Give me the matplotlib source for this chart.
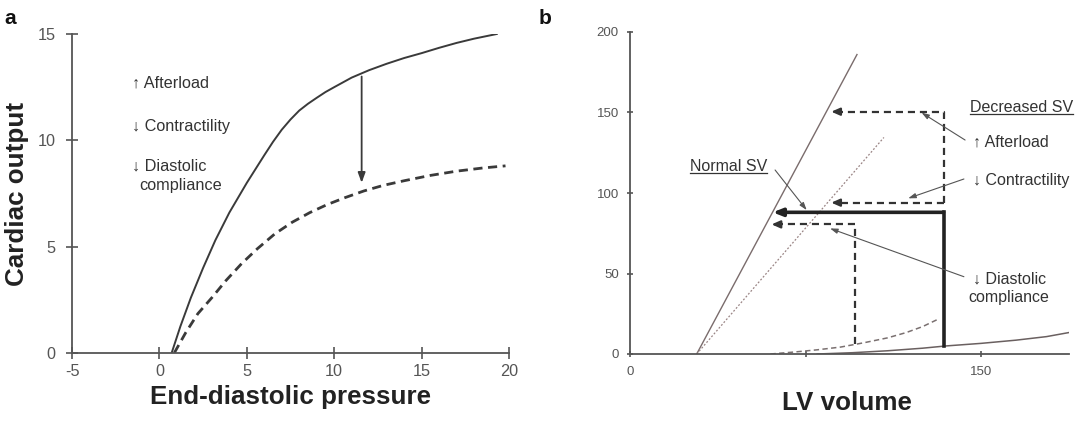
import matplotlib
matplotlib.use('Agg')
import matplotlib.pyplot as plt
from matplotlib.lines import Line2D

plt.rcParams['font.family'] = ['Liberation Sans', 'DejaVu Sans']
plt.rcParams['axes.unicode_minus'] = False

# ---------------- Panel a data ----------------
edp_normal = [0.7, 1.2, 1.8, 2.5, 3.2, 4.0, 5.0, 6.0, 6.5, 7.0, 7.5, 8.0, 8.5, 9.0,
              9.5, 10.0, 11.0, 12.0, 13.0, 14.0, 15.0, 16.0, 17.0, 18.0, 19.3]
co_normal = [0, 1.25, 2.6, 4.0, 5.3, 6.6, 8.0, 9.3, 9.93, 10.5, 10.98, 11.4, 11.72, 12.0,
             12.27, 12.5, 12.95, 13.3, 13.6, 13.87, 14.1, 14.35, 14.58, 14.78, 15.0]
edp_failing = [0.85, 1.5, 2.2, 3.0, 3.8, 4.7, 5.6, 6.6, 7.6, 8.6, 9.6, 10.6, 11.7,
               12.8, 14.0, 15.5, 17.0, 18.5, 19.8]
co_failing = [0, 0.95, 1.85, 2.6, 3.4, 4.2, 4.9, 5.6, 6.15, 6.6, 6.98, 7.3, 7.62,
              7.88, 8.1, 8.35, 8.55, 8.7, 8.8]
shift_edp = 11.57
shift_from = 13.0
shift_to = 8.0
a_xticks = [-5, 0, 5, 10, 15, 20]
a_yticks = [0, 5, 10, 15]
a_labels = ['\u2191 Afterload', '\u2193 Contractility', '\u2193 Diastolic', 'compliance']

# ---------------- Panel b data ----------------
espvr_x = [28.5, 97.0]
espvr_y = [0, 186.0]
espvr_low_x = [28.5, 108.5]
espvr_low_y = [0, 134.5]
edpvr_x = [80, 95, 110, 125, 135, 150, 165, 178, 187.5]
edpvr_y = [0, 0.8, 2.0, 3.6, 5.0, 6.6, 8.6, 10.8, 13.3]
edpvr_stiff_x = [60, 70, 80, 90, 100, 110, 118, 125, 131.5]
edpvr_stiff_y = [0, 1.2, 2.6, 4.3, 7.0, 10.0, 13.3, 17.0, 21.5]
# stroke volume loops: (EDV, ESV, end-systolic pressure, end-diastolic pressure)
normal_sv = (134.0, 61.0, 88.0, 5.0)
afterload_sv = (134.0, 86.0, 150.5, 94.0)
contract_sv = (134.0, 86.0, 94.0)
diastolic_sv = (96.2, 60.5, 80.5, 6.5)
b_xticks = [0, 75, 150]
b_xticklabels = ['0', '', '150']
b_yticks = [0, 50, 100, 150, 200]

GRAY = '#555555'
DARK = '#333333'

fig = plt.figure(figsize=(10.86, 4.22), dpi=100)

# ================= Panel a =================
ax = fig.add_axes([72/1086, 1-353/422, (509-72)/1086, (353-34)/422])
ax.plot(edp_normal, co_normal, color='#3a3a3a', lw=1.4, solid_joinstyle='round')
ax.plot(edp_failing, co_failing, color='#3a3a3a', lw=2.0, linestyle=(0, (3.3, 2.0)))
ax.annotate('', xy=(shift_edp, shift_to), xytext=(shift_edp, shift_from),
            arrowprops=dict(arrowstyle='-|>,head_length=0.6,head_width=0.22',
                            color='#3a3a3a', lw=1.3, shrinkA=0, shrinkB=0))
ax.text(-1.55, 12.68, a_labels[0], fontsize=11.7, color=DARK, va='center', ha='left')
ax.text(-1.55, 10.64, a_labels[1], fontsize=11.7, color=DARK, va='center', ha='left')
ax.text(-1.55, 8.81, a_labels[2], fontsize=11.7, color=DARK, va='center', ha='left')
ax.text(-1.14, 7.87, a_labels[3], fontsize=11.7, color=DARK, va='center', ha='left')
ax.set_xlim(-5, 20)
ax.set_ylim(0, 15)
ax.set_xticks(a_xticks)
ax.set_yticks(a_yticks)
for s in ['top', 'right']:
    ax.spines[s].set_visible(False)
for s in ['left', 'bottom']:
    ax.spines[s].set_color(GRAY)
    ax.spines[s].set_linewidth(1.3)
ax.tick_params(direction='inout', length=8.5, width=1.2, color=GRAY,
               labelcolor=GRAY, labelsize=11.7)
ax.tick_params(axis='x', pad=4)
ax.tick_params(axis='y', pad=7.5)
fig.text(290.5/1086, 1-397/422, 'End-diastolic pressure', fontsize=18.7,
         fontweight='bold', color='#222222', ha='center', va='center')
fig.text(17/1086, 1-193.5/422, 'Cardiac output', fontsize=18.7, rotation=90,
         fontweight='bold', color='#222222', ha='center', va='center')
fig.text(10/1086, 1-19/422, 'a', fontsize=15, fontweight='bold', color='#111111',
         ha='center', va='center')

# ================= Panel b =================
bx = fig.add_axes([630/1086, 1-354/422, (1068.75-630)/1086, (354-32)/422])
bx.plot(espvr_x, espvr_y, color='#7a6c6c', lw=1.0)
bx.plot(espvr_low_x, espvr_low_y, color='#9a8585', lw=0.9, linestyle=(0, (1.5, 1.5)))
bx.plot(edpvr_x, edpvr_y, color='#6a6060', lw=1.1)
bx.plot(edpvr_stiff_x, edpvr_stiff_y, color='#7a7070', lw=1.1, linestyle=(0, (3.5, 2.2)))

dash = (0, (3.2, 2.2))
DLW = 1.6
# afterload
edv, esv, esp, top = afterload_sv[0], afterload_sv[1], afterload_sv[2], afterload_sv[3]
bx.plot([edv, edv, esv + 4], [top, esp, esp], color=DARK, lw=DLW, linestyle=dash)
bx.annotate('', xy=(esv, esp), xytext=(esv + 4, esp),
            arrowprops=dict(arrowstyle='-|>,head_length=0.5,head_width=0.22',
                            color=DARK, lw=DLW, shrinkA=0, shrinkB=0))
# contractility
edv, esv, esp = contract_sv
bx.plot([edv, esv + 4], [esp, esp], color=DARK, lw=DLW, linestyle=dash)
bx.annotate('', xy=(esv, esp), xytext=(esv + 4, esp),
            arrowprops=dict(arrowstyle='-|>,head_length=0.5,head_width=0.22',
                            color=DARK, lw=DLW, shrinkA=0, shrinkB=0))
# diastolic compliance
edv, esv, esp, edp = diastolic_sv
bx.plot([edv, edv, esv + 4], [edp, esp, esp], color=DARK, lw=DLW, linestyle=dash)
bx.annotate('', xy=(esv, esp), xytext=(esv + 4, esp),
            arrowprops=dict(arrowstyle='-|>,head_length=0.5,head_width=0.22',
                            color=DARK, lw=DLW, shrinkA=0, shrinkB=0))
# normal SV
edv, esv, esp, edp = normal_sv
bx.plot([edv, edv], [edp, esp], color='#222222', lw=2.6, solid_capstyle='projecting')
bx.annotate('', xy=(esv, esp), xytext=(edv, esp),
            arrowprops=dict(arrowstyle='-|>,head_length=0.55,head_width=0.22',
                            color='#222222', lw=2.6, shrinkA=0, shrinkB=0))

# annotation pointers
ptr = dict(arrowstyle='-|>,head_length=0.45,head_width=0.15', color='#555555', lw=0.8,
           shrinkA=0, shrinkB=0)
bx.annotate('', xy=(75.5, 89.4), xytext=(62.0, 114.3), arrowprops=ptr)
bx.annotate('', xy=(124.6, 149.9), xytext=(143.2, 132.9), arrowprops=ptr)
bx.annotate('', xy=(118.9, 96.7), xytext=(142.7, 108.7), arrowprops=ptr)
bx.annotate('', xy=(85.5, 78.0), xytext=(142.7, 48.0), arrowprops=ptr)

t_norm = bx.text(25.6, 116.3, 'Normal SV', fontsize=11.5, color=DARK, va='center', ha='left')
t_dec = bx.text(145.3, 153.0, 'Decreased SV', fontsize=11.5, color=DARK, va='center', ha='left')
bx.text(146.4, 131.9, '\u2191 Afterload', fontsize=11.5, color=DARK, va='center', ha='left')
bx.text(146.4, 108.0, '\u2193 Contractility', fontsize=11.5, color=DARK, va='center', ha='left')
bx.text(146.4, 46.4, '\u2193 Diastolic', fontsize=11.5, color=DARK, va='center', ha='left')
bx.text(144.6, 35.2, 'compliance', fontsize=11.5, color=DARK, va='center', ha='left')

bx.set_xlim(0, 187.5)
bx.set_ylim(0, 200)
bx.set_xticks(b_xticks)
bx.set_xticklabels(b_xticklabels)
bx.set_yticks(b_yticks)
for s in ['top', 'right']:
    bx.spines[s].set_visible(False)
for s in ['left', 'bottom']:
    bx.spines[s].set_color(GRAY)
    bx.spines[s].set_linewidth(1.3)
bx.tick_params(direction='inout', length=5, width=1.2, color=GRAY,
               labelcolor=GRAY, labelsize=9.5)
bx.tick_params(axis='x', pad=6)
bx.tick_params(axis='y', pad=5.5)
fig.text(847/1086, 1-403/422, 'LV volume', fontsize=18.7, fontweight='bold',
         color='#222222', ha='center', va='center')
fig.text(545/1086, 1-19/422, 'b', fontsize=15, fontweight='bold', color='#111111',
         ha='center', va='center')

# underlines for the SV labels
fig.canvas.draw()
r = fig.canvas.get_renderer()
W, H = fig.bbox.width, fig.bbox.height
for t, off in ((t_norm, 1.5), (t_dec, 1.0)):
    bb = t.get_window_extent(r)
    fig.add_artist(Line2D([bb.x0 / W, bb.x1 / W], [(bb.y0 + off) / H, (bb.y0 + off) / H],
                          transform=fig.transFigure, color=DARK, lw=0.9))

fig.savefig('out.png', dpi=100)
